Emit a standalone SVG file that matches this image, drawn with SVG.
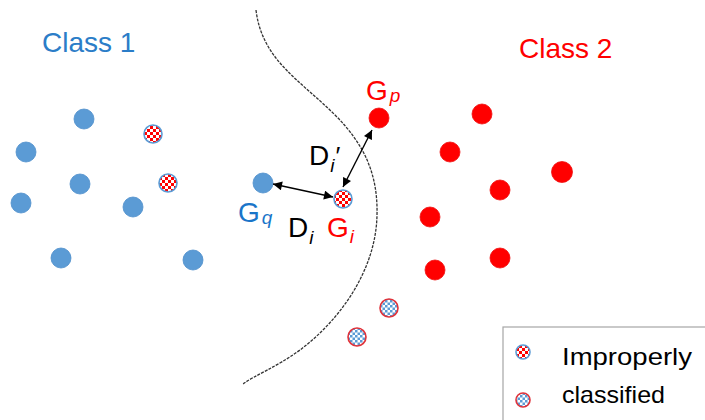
<svg xmlns="http://www.w3.org/2000/svg" width="705" height="420" viewBox="0 0 705 420">
<defs>
<pattern id="chkRed" width="6" height="6" patternUnits="userSpaceOnUse">
<rect width="6" height="6" fill="#ffffff"/>
<rect width="3" height="3" fill="#ff0000"/>
<rect x="3" y="3" width="3" height="3" fill="#ff0000"/>
</pattern>
<pattern id="chkBlue" width="5" height="5" patternUnits="userSpaceOnUse">
<rect width="5" height="5" fill="#ffffff"/>
<rect width="2.5" height="2.5" fill="#5b9bd5"/>
<rect x="2.5" y="2.5" width="2.5" height="2.5" fill="#5b9bd5"/>
</pattern>
<marker id="ah" viewBox="0 0 10 10" refX="10" refY="5" markerWidth="10" markerHeight="9" markerUnits="userSpaceOnUse" orient="auto-start-reverse">
<path d="M0,0 L10,5 L0,10 z" fill="#000"/>
</marker>
</defs>
<style>
.blue{fill:#5b9bd5;stroke:#4f8fcc;stroke-width:0.8}
.red{fill:#ff0000;stroke:#f01010;stroke-width:0.8}
.wrong1{fill:url(#chkRed);stroke:#5b9bd5;stroke-width:1.6}
.wrong2{fill:url(#chkBlue);stroke:#e0323a;stroke-width:1.6}
.t{font-family:"Liberation Sans",Arial,sans-serif}
.big{font-size:28px}
.sub{font-size:19px;font-style:italic}
.conn{stroke:#000;stroke-width:1.4;fill:none}
</style>
<rect width="705" height="420" fill="#ffffff"/>

<g id="boundary">
<path d="M256,10 C262,60 300,80 335,115 C365,145 378,175 377,215 C376,270 340,320 300,350 C275,368 255,375 243,384" fill="none" stroke="#333" stroke-width="1.3" stroke-dasharray="3 1.2"/>
</g>

<g id="class1-label"><text class="t" x="42" y="52" font-size="28" fill="#2b7dc8">Class 1</text></g>
<g id="class2-label"><text class="t" x="519" y="58" font-size="28" fill="#ff0000">Class 2</text></g>

<g id="class1-points">
<circle class="blue" cx="84" cy="119" r="10"/>
<circle class="blue" cx="26" cy="152" r="10"/>
<circle class="blue" cx="80" cy="184" r="10"/>
<circle class="blue" cx="21" cy="203" r="10"/>
<circle class="blue" cx="133" cy="207" r="10"/>
<circle class="blue" cx="61" cy="258" r="10"/>
<circle class="blue" cx="193" cy="260" r="10"/>
<circle class="wrong1" cx="153" cy="134" r="9"/>
<circle class="wrong1" cx="168" cy="183" r="9"/>
</g>

<g id="class2-points">
<circle class="red" cx="482" cy="114" r="10"/>
<circle class="red" cx="450" cy="152" r="10"/>
<circle class="red" cx="562" cy="172" r="10.5"/>
<circle class="red" cx="500" cy="190" r="10"/>
<circle class="red" cx="430" cy="217" r="10"/>
<circle class="red" cx="500" cy="258" r="10"/>
<circle class="red" cx="435" cy="270" r="10"/>
<circle class="wrong2" cx="389" cy="308" r="9"/>
<circle class="wrong2" cx="357" cy="337" r="9"/>
</g>

<g id="Gq">
<circle class="blue" cx="263" cy="183" r="10"/>
<text class="t" x="238" y="222" font-size="28" fill="#1a75c9">G<tspan class="sub" dx="2" dy="2">q</tspan></text>
</g>

<g id="Gp">
<circle class="red" cx="379" cy="118" r="10"/>
<text class="t" x="366" y="100" font-size="28" fill="#ff0000">G<tspan class="sub" dx="2" dy="2">p</tspan></text>
</g>

<g id="Gi">
<circle class="wrong1" cx="343" cy="199" r="9"/>
<text class="t" x="327" y="237" font-size="28" fill="#ff0000">G<tspan class="sub" dx="1" dy="6">i</tspan></text>
</g>

<g id="connectors">
<line class="conn" x1="273" y1="184" x2="333" y2="197" marker-start="url(#ah)" marker-end="url(#ah)"/>
<line class="conn" x1="343" y1="187" x2="372" y2="130" marker-start="url(#ah)" marker-end="url(#ah)"/>
</g>

<g id="Di-labels">
<text class="t" x="309" y="165" font-size="28" fill="#000">D<tspan class="sub" dx="1" dy="7">i</tspan><tspan font-size="26" dx="1" dy="-7">′</tspan></text>
<text class="t" x="288" y="237" font-size="28" fill="#000">D<tspan class="sub" dx="1" dy="7">i</tspan></text>
</g>

<g id="legend">
<rect x="503" y="327" width="215" height="110" fill="#ffffff" stroke="#a6a6a6" stroke-width="1.2"/>
<circle cx="523" cy="352" r="7" fill="url(#chkRed)" stroke="#5b9bd5" stroke-width="1.6"/>
<circle cx="523" cy="400" r="7" fill="url(#chkBlue)" stroke="#e0323a" stroke-width="1.6"/>
<text class="t" x="562" y="365" font-size="24" fill="#000" textLength="130" lengthAdjust="spacingAndGlyphs">Improperly</text>
<text class="t" x="562" y="403" font-size="24" fill="#000" textLength="103" lengthAdjust="spacingAndGlyphs">classified</text>
</g>
</svg>
